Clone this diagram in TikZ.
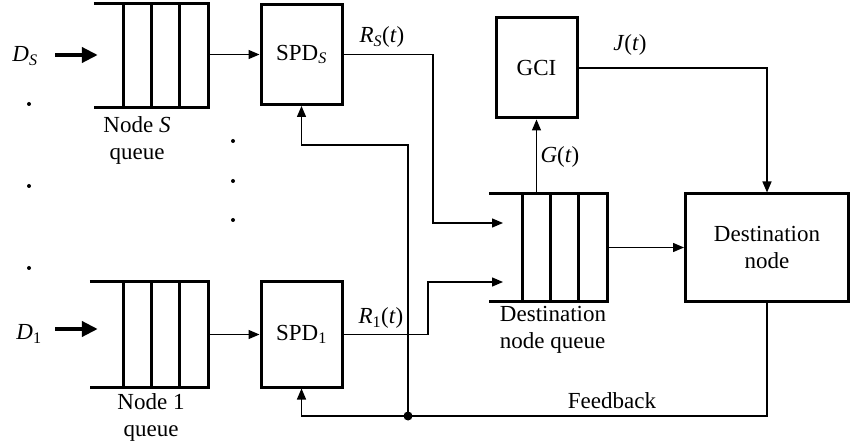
\documentclass[tikz,border=0pt]{standalone}
\usepackage{fontspec}
\setmainfont{Liberation Serif}
\usetikzlibrary{arrows.meta}
\tikzset{
  blk/.style={draw, line width=3pt, inner sep=0pt, align=center},
  qbody/.style={inner sep=0pt, draw=none},
  qline/.style={line width=3pt},
  conn/.style={line width=1.4pt},
  arr/.style={conn, -{Triangle[length=11pt,width=9pt]}},
  bigarr/.style={line width=4pt, -{Triangle[length=16pt,width=15pt]}},
  lbl/.style={inner sep=0pt, align=center},
  smalldot/.style={circle, fill, inner sep=0pt, minimum size=4pt},
  junc/.style={circle, fill, inner sep=0pt, minimum size=9pt}
}
\begin{document}
\begin{tikzpicture}[x=1pt,y=-1pt,font=\fontsize{23}{27}\selectfont]
\useasboundingbox (0,0) rectangle (851,446);

% queues
\node[qbody, minimum width=84pt, minimum height=103pt] (qS) at (166,55.5) {};
\node[qbody, minimum width=84pt, minimum height=105pt] (q1) at (166,334.5) {};
\node[qbody, minimum width=84pt, minimum height=107pt] (qD) at (565,247.5) {};
\foreach \q/\l in {qS/30,q1/34,qD/34}{
  \draw[qline] ([xshift=-\l pt]\q.north west) -- (\q.north east) -- (\q.south east) -- ([xshift=-\l pt]\q.south west);
  \draw[qline] (\q.north west) -- (\q.south west);
  \draw[qline] ([xshift=28pt]\q.north west) -- ([xshift=28pt]\q.south west);
  \draw[qline] ([xshift=56pt]\q.north west) -- ([xshift=56pt]\q.south west);
}

% boxes
\node[blk, minimum width=81pt, minimum height=100pt] (spdS) at (301.5,54.5) {SPD\textsubscript{\textit{S}}};
\node[blk, minimum width=81pt, minimum height=105pt] (spd1) at (301.5,334.5) {SPD\textsubscript{1}};
\node[blk, minimum width=81pt, minimum height=100pt] (gci) at (536.5,68) {GCI};
\node[blk, minimum width=163pt, minimum height=107pt] (dest) at (767,247.5) {Destination\\node};

% labels
\node[lbl] (dS) at (25,56) {\textit{D}\textsubscript{\textit{S}}};
\node[lbl] (d1) at (29,334) {\textit{D}\textsubscript{1}};
\node[lbl] (lqS) at (137,140) {Node \textit{S}\\queue};
\node[lbl] (lq1) at (151,417) {Node 1\\queue};
\node[lbl, align=left] (lqD) at (553,330) {Destination\\node queue};
\node[lbl] (lRS) at (382,37) {\textit{R}\textsubscript{\textit{S}}(\textit{t})};
\node[lbl] (lR1) at (381,318) {\textit{R}\textsubscript{1}(\textit{t})};
\node[lbl] (lJ) at (630,45) {\textit{J}(\textit{t})};
\node[lbl] (lG) at (560,157) {\textit{G}(\textit{t})};
\node[lbl] (lF) at (612,401) {Feedback};

% dots
\foreach \p/\n in {{(29,104)}/a,{(29,186)}/b,{(29,268)}/c,{(233,141)}/d,{(233,181)}/e,{(233,220)}/f}
  \node[smalldot] (dot\n) at \p {};

% input arrows
\coordinate (inS) at (55,55);
\coordinate (in1) at (55,329);
\draw[bigarr] (inS) -- ([xshift=-26pt]qS.west |- inS);
\draw[bigarr] (in1) -- ([xshift=-26pt]q1.west |- in1);

% queue to SPD
\draw[arr] (qS.east |- spdS.west) -- (spdS.west);
\draw[arr] (q1.east |- spd1.west) -- (spd1.west);

% SPD outputs
\coordinate (rS1) at (433,54.5);
\coordinate (rS2) at (433,223);
\coordinate (rSend) at (503,223);
\draw[arr] (spdS.east) -- (rS1) -- (rS2) -- (rSend);
\coordinate (r11) at (428,334.5);
\coordinate (r12) at (428,282);
\coordinate (r1end) at (503,282);
\draw[arr] (spd1.east) -- (r11) -- (r12) -- (r1end);

% G(t)
\draw[arr] (gci.south |- qD.north) -- (gci.south);
% J(t)
\coordinate (j2) at (767,68);
\draw[arr] (gci.east) -- (j2) -- (dest.north);
% queue to dest
\draw[arr] (qD.east) -- (dest.west);

% feedback
\node[junc] (jn) at (408,416) {};
\coordinate (f1) at (767,416);
\draw[arr] (dest.south) -- (f1) -- (spd1.south |- f1) -- (spd1.south);
\coordinate (f2) at (408,145);
\draw[arr] (jn.center) -- (f2) -- (spdS.south |- f2) -- (spdS.south);
\end{tikzpicture}
\end{document}
